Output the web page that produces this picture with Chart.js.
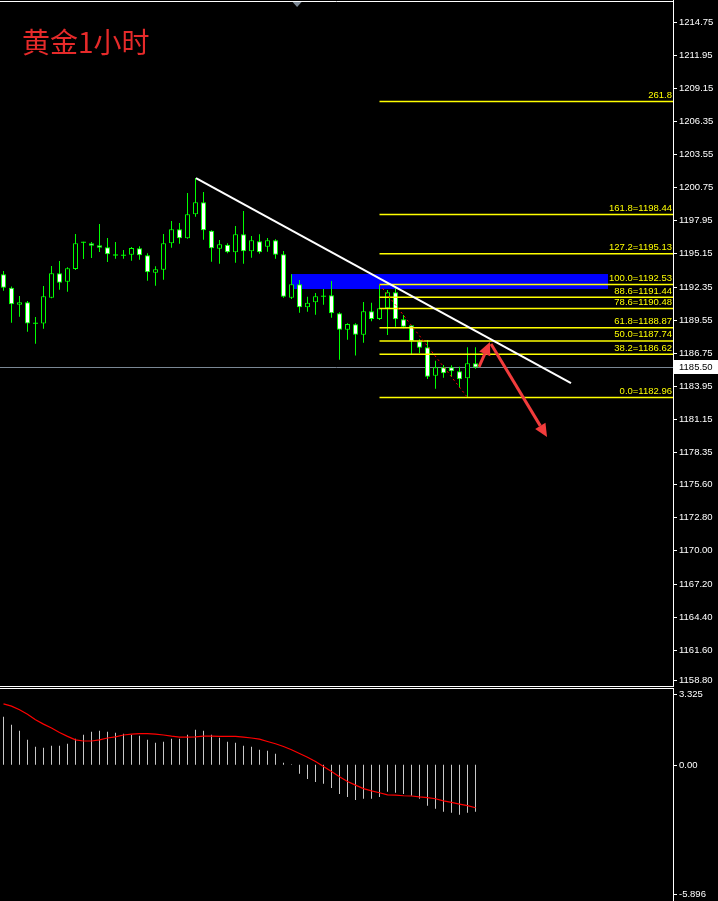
<!DOCTYPE html>
<html>
<head>
<meta charset="utf-8">
<title>黄金1小时</title>
<script src="https://cdn.jsdelivr.net/npm/chart.js@4.4.1/dist/chart.umd.min.js"></script>
<style>
  html, body { margin: 0; padding: 0; background: #000; }
  body { width: 718px; height: 901px; position: relative; overflow: hidden; }
  #priceBox { position: absolute; left: 0; top: 0; width: 718px; height: 687px; }
  #macdBox { position: absolute; left: 0; top: 688px; width: 718px; height: 213px; }
  #title { position: absolute; left: 22px; top: 27px; color: #e62a2a; font: 28px/28px "Noto Sans CJK SC", sans-serif; }
</style>
</head>
<body>
<div id="priceBox"><canvas id="priceChart" width="718" height="687"></canvas></div>
<div id="macdBox"><canvas id="macdChart" width="718" height="213"></canvas></div>
<div id="title">黄金1小时</div>
<script>
// gold H1 candles
const opens  = [1193.39, 1192.25, 1190.81, 1191.02, 1189.24, 1189.21, 1191.41, 1193.47, 1192.76, 1193.84,
                1196.10, 1196.01, 1195.84, 1195.67, 1194.96, 1195.00, 1195.05, 1195.59, 1195.00, 1193.52,
                1193.78, 1196.01, 1197.20, 1196.44, 1198.47, 1199.48, 1197.08, 1195.56, 1195.89, 1195.25,
                1196.77, 1195.34, 1196.18, 1195.72, 1196.27, 1195.08, 1191.41, 1192.54, 1190.59, 1191.02,
                1191.53, 1191.61, 1190.09, 1188.70, 1189.16, 1188.27, 1190.25, 1189.60, 1190.51, 1191.86,
                1189.58, 1189.07, 1187.71, 1187.20, 1184.80, 1185.51, 1185.51, 1185.17, 1184.58, 1185.85];
const highs  = [1193.67, 1192.35, 1191.55, 1191.13, 1189.77, 1192.40, 1194.09, 1194.51, 1193.98, 1196.80,
                1196.15, 1196.12, 1197.65, 1196.46, 1196.12, 1195.45, 1195.70, 1195.76, 1195.17, 1194.07,
                1196.80, 1197.90, 1197.73, 1200.27, 1201.54, 1200.36, 1197.12, 1196.29, 1196.01, 1197.48,
                1198.75, 1196.63, 1196.77, 1196.46, 1196.35, 1195.36, 1193.39, 1192.91, 1191.49, 1191.80,
                1192.14, 1192.82, 1190.17, 1189.24, 1189.24, 1191.04, 1190.98, 1192.53, 1192.06, 1192.20,
                1189.94, 1189.10, 1187.88, 1187.82, 1186.07, 1185.71, 1185.68, 1185.56, 1187.21, 1187.21];
const lows   = [1192.00, 1189.29, 1189.80, 1188.53, 1187.51, 1188.78, 1191.35, 1192.08, 1191.91, 1193.75,
                1194.68, 1194.77, 1195.28, 1194.43, 1194.71, 1194.71, 1194.54, 1194.62, 1192.85, 1192.42,
                1192.93, 1195.64, 1195.98, 1196.40, 1198.26, 1196.32, 1194.45, 1194.29, 1195.17, 1194.37,
                1194.29, 1194.79, 1195.13, 1195.30, 1194.71, 1191.41, 1191.30, 1190.14, 1190.22, 1189.97,
                1190.81, 1189.71, 1186.16, 1187.85, 1186.50, 1187.60, 1189.41, 1189.52, 1188.25, 1188.95,
                1188.82, 1186.55, 1186.70, 1184.52, 1183.70, 1184.63, 1184.72, 1183.79, 1182.96, 1185.39];
const closes = [1192.25, 1190.85, 1191.02, 1189.21, 1189.24, 1191.53, 1193.47, 1192.68, 1193.90, 1196.01,
                1196.10, 1195.81, 1195.64, 1195.08, 1195.08, 1195.00, 1195.61, 1195.00, 1193.56, 1193.81,
                1196.01, 1197.20, 1196.44, 1198.47, 1199.48, 1197.11, 1195.59, 1195.93, 1195.25, 1196.77,
                1195.34, 1196.27, 1195.25, 1196.27, 1195.05, 1191.49, 1192.54, 1190.59, 1190.98, 1191.53,
                1191.53, 1190.09, 1188.70, 1189.18, 1188.27, 1190.25, 1189.60, 1190.51, 1191.86, 1189.58,
                1188.95, 1187.71, 1187.17, 1184.72, 1185.51, 1185.01, 1185.17, 1184.50, 1185.85, 1185.50];

// MACD window: histogram (main) and red signal line
const macdHist = [2.08, 1.73, 1.47, 1.08, 0.78, 0.74, 0.82, 0.82, 0.91, 1.13,
                  1.30, 1.43, 1.47, 1.43, 1.39, 1.34, 1.30, 1.26, 1.08, 0.95,
                  1.00, 1.13, 1.13, 1.30, 1.52, 1.47, 1.30, 1.17, 1.00, 0.95,
                  0.82, 0.78, 0.65, 0.61, 0.48, 0.09, 0.02, -0.39, -0.61, -0.74,
                  -0.82, -1.00, -1.26, -1.39, -1.52, -1.47, -1.47, -1.39, -1.17, -1.21,
                  -1.26, -1.34, -1.47, -1.77, -1.90, -2.03, -2.08, -2.16, -2.08, -2.03];
const macdSignal = [2.64, 2.54, 2.38, 2.19, 1.95, 1.76, 1.59, 1.40, 1.23, 1.08,
                    1.03, 1.03, 1.08, 1.16, 1.21, 1.29, 1.33, 1.35, 1.35, 1.33,
                    1.29, 1.24, 1.20, 1.20, 1.21, 1.24, 1.24, 1.23, 1.23, 1.23,
                    1.20, 1.16, 1.11, 1.01, 0.91, 0.79, 0.65, 0.49, 0.33, 0.14,
                    -0.07, -0.29, -0.52, -0.72, -0.88, -1.03, -1.13, -1.21, -1.30, -1.31,
                    -1.34, -1.35, -1.39, -1.42, -1.47, -1.56, -1.63, -1.70, -1.77, -1.86];

// axis ticks
const priceTicks = [1214.75, 1211.95, 1209.15, 1206.35, 1203.55, 1200.75, 1197.95, 1195.15, 1192.35, 1189.55,
                    1186.75, 1183.95, 1181.15, 1178.35, 1175.60, 1172.80, 1170.00, 1167.20, 1164.40, 1161.60, 1158.80];
const macdTicks = [3.325, 0, -5.896];
const macdTickLabels = ['3.325', '0.00', '-5.896'];
const bid = 1185.50;

// drawn objects: fibo, trend line, zone, arrows  (x = bar index, y = price)
const fibLabels = ['0.0=1182.96', '38.2=1186.62', '50.0=1187.74', '61.8=1188.87', '78.6=1190.48',
                   '88.6=1191.44', '100.0=1192.53', '127.2=1195.13', '161.8=1198.44', '261.8'];
const fibPrices = [1182.96, 1186.62, 1187.74, 1188.87, 1190.48, 1191.44, 1192.53, 1195.13, 1198.44, 1208.01];
const fibStart = 47;
const fibDiag = [[47, 1192.53], [58, 1182.96]];
const trendLine = [[24.06, 1201.54], [70.94, 1184.18]];
const zoneBox = [35.94, 1193.41, 75.56, 1192.14];
const arrowUp = [[59.44, 1185.54], [60.81, 1187.66]];
const arrowDown = [[60.94, 1187.49], [67.94, 1179.61]];
const shiftMarker = 36.7;

const AXIS_W = 45;
const X_MIN = -0.4375, X_MAX = 83.6875;
const GREEN = '#00ff00';
const FONT = '9.5px "Liberation Sans", Arial, sans-serif';
const idx = opens.map((_, i) => i);

function drawArrow(ctx, x0, y0, x1, y1, head, half) {
  const a = Math.atan2(y1 - y0, x1 - x0);
  const bx = x1 - Math.cos(a) * head, by = y1 - Math.sin(a) * head;
  ctx.beginPath(); ctx.moveTo(x0, y0); ctx.lineTo(bx, by); ctx.stroke();
  ctx.beginPath();
  ctx.moveTo(x1, y1);
  ctx.lineTo(bx + Math.sin(a) * half, by - Math.cos(a) * half);
  ctx.lineTo(bx - Math.sin(a) * half, by + Math.cos(a) * half);
  ctx.closePath(); ctx.fill();
}

function drawAxisLabels(chart, values, texts) {
  const {ctx, chartArea: ca, scales: {y}} = chart;
  ctx.save();
  ctx.fillStyle = '#fff'; ctx.strokeStyle = '#fff'; ctx.lineWidth = 1;
  ctx.font = FONT; ctx.textAlign = 'left'; ctx.textBaseline = 'middle';
  values.forEach((v, i) => {
    let py = Math.round(y.getPixelForValue(v)) + 0.5;
    py = Math.min(Math.max(py, 6.5), chart.height - 6.5);
    ctx.beginPath(); ctx.moveTo(ca.right, py); ctx.lineTo(ca.right + 4, py); ctx.stroke();
    ctx.fillText(texts[i], ca.right + 6, py);
  });
  ctx.restore();
}

const priceObjects = {
  id: 'priceObjects',
  beforeDatasetsDraw(chart) {
    const {ctx, chartArea: ca, scales: {x, y}} = chart;
    ctx.save();
    ctx.fillStyle = '#0000ff';
    const zx0 = x.getPixelForValue(zoneBox[0]), zx1 = x.getPixelForValue(zoneBox[2]);
    const zy0 = y.getPixelForValue(zoneBox[1]), zy1 = y.getPixelForValue(zoneBox[3]);
    ctx.fillRect(zx0, zy0, zx1 - zx0, zy1 - zy0);
    const by = Math.round(y.getPixelForValue(bid)) + 0.5;
    ctx.strokeStyle = '#7a8794'; ctx.lineWidth = 1;
    ctx.beginPath(); ctx.moveTo(ca.left, by); ctx.lineTo(ca.right, by); ctx.stroke();
    ctx.restore();
  },
  afterDatasetsDraw(chart) {
    const {ctx, chartArea: ca, scales: {x, y}} = chart;
    ctx.save();
    ctx.beginPath(); ctx.rect(ca.left, ca.top, ca.width, ca.height); ctx.clip();
    // fibo levels
    const fx = x.getPixelForValue(fibStart);
    ctx.strokeStyle = '#ffff00'; ctx.fillStyle = '#ffff00'; ctx.lineWidth = 1.5;
    ctx.font = FONT; ctx.textAlign = 'right'; ctx.textBaseline = 'bottom';
    fibPrices.forEach((p, i) => {
      const py = y.getPixelForValue(p);
      ctx.beginPath(); ctx.moveTo(fx, py); ctx.lineTo(ca.right, py); ctx.stroke();
      ctx.fillText(fibLabels[i], ca.right - 1, py - 1.5);
    });
    // fibo diagonal
    ctx.strokeStyle = '#ff0000'; ctx.lineWidth = 1; ctx.setLineDash([2, 3]);
    ctx.beginPath();
    ctx.moveTo(x.getPixelForValue(fibDiag[0][0]), y.getPixelForValue(fibDiag[0][1]));
    ctx.lineTo(x.getPixelForValue(fibDiag[1][0]), y.getPixelForValue(fibDiag[1][1]));
    ctx.stroke();
    ctx.setLineDash([]);
    // trend line
    ctx.strokeStyle = '#ffffff'; ctx.lineWidth = 2;
    ctx.beginPath();
    ctx.moveTo(x.getPixelForValue(trendLine[0][0]), y.getPixelForValue(trendLine[0][1]));
    ctx.lineTo(x.getPixelForValue(trendLine[1][0]), y.getPixelForValue(trendLine[1][1]));
    ctx.stroke();
    // arrows
    ctx.strokeStyle = '#f23c3c'; ctx.fillStyle = '#f23c3c'; ctx.lineWidth = 3;
    [arrowUp, arrowDown].forEach(a => {
      drawArrow(ctx, x.getPixelForValue(a[0][0]), y.getPixelForValue(a[0][1]),
                x.getPixelForValue(a[1][0]), y.getPixelForValue(a[1][1]), 13, 6);
    });
    ctx.restore();
  },
  afterDraw(chart) {
    const {ctx, chartArea: ca, scales: {x, y}} = chart;
    drawAxisLabels(chart, priceTicks, priceTicks.map(v => v.toFixed(2)));
    ctx.save();
    // bid box
    const by = Math.round(y.getPixelForValue(bid));
    ctx.fillStyle = '#fff';
    ctx.fillRect(ca.right + 1, by - 7, chart.width - ca.right - 1, 14);
    ctx.fillStyle = '#000'; ctx.font = FONT; ctx.textBaseline = 'middle';
    ctx.fillText(bid.toFixed(2), ca.right + 6, by + 0.5);
    // window frame
    ctx.strokeStyle = '#fff'; ctx.lineWidth = 1;
    ctx.beginPath();
    ctx.moveTo(0, 1.5); ctx.lineTo(ca.right, 1.5);
    ctx.moveTo(0, ca.bottom - 0.5); ctx.lineTo(ca.right + 1, ca.bottom - 0.5);
    ctx.stroke();
    // chart shift marker
    const sx = x.getPixelForValue(shiftMarker);
    ctx.fillStyle = '#7b8794';
    ctx.beginPath(); ctx.moveTo(sx - 4.5, 2); ctx.lineTo(sx + 4.5, 2); ctx.lineTo(sx, 7); ctx.closePath(); ctx.fill();
    ctx.restore();
  }
};

const macdObjects = {
  id: 'macdObjects',
  afterDraw(chart) {
    const {ctx, chartArea: ca} = chart;
    drawAxisLabels(chart, macdTicks, macdTickLabels);
    ctx.save();
    ctx.strokeStyle = '#fff'; ctx.lineWidth = 1;
    ctx.beginPath(); ctx.moveTo(0, 0.5); ctx.lineTo(ca.right + 1, 0.5); ctx.stroke();
    ctx.restore();
  }
};

function yAxis(min, max) {
  return {
    position: 'right', min: min, max: max, bounds: 'data', beginAtZero: false,
    ticks: { display: false }, grid: { display: false, drawTicks: false },
    border: { display: true, color: '#fff', width: 1 },
    afterFit: s => { s.width = AXIS_W; }
  };
}
const xAxis = { type: 'linear', min: X_MIN, max: X_MAX, offset: false, display: false };
const baseOptions = {
  responsive: false, animation: false, maintainAspectRatio: false,
  layout: { padding: 0, autoPadding: false },
  plugins: { legend: { display: false }, tooltip: { enabled: false }, title: { display: false } }
};

new Chart(document.getElementById('priceChart'), {
  type: 'bar',
  data: {
    datasets: [
      {
        type: 'scatter', order: 0,
        data: idx.filter(i => opens[i] === closes[i]).map(i => ({x: i, y: opens[i]})),
        pointStyle: 'line', pointRadius: 2.5, borderColor: GREEN, borderWidth: 1
      },
      {
        order: 1, grouped: false, barThickness: 5, inflateAmount: 0,
        data: idx.map(i => ({x: i, y: [Math.min(opens[i], closes[i]), Math.max(opens[i], closes[i])]})),
        backgroundColor: idx.map(i => closes[i] < opens[i] ? '#ffffff' : '#000000'),
        borderColor: GREEN, borderWidth: 1, borderSkipped: false
      },
      {
        order: 2, grouped: false, barThickness: 1, inflateAmount: 0,
        data: idx.map(i => ({x: i, y: [lows[i], highs[i]]})),
        backgroundColor: GREEN
      }
    ]
  },
  options: Object.assign({}, baseOptions, {
    scales: { x: xAxis, y: yAxis(1158.44, 1216.613) }
  }),
  plugins: [priceObjects]
});

new Chart(document.getElementById('macdChart'), {
  type: 'bar',
  data: {
    datasets: [
      {
        type: 'line', order: 0,
        data: macdSignal.map((v, i) => ({x: i, y: v})),
        borderColor: '#ff0000', borderWidth: 1.2, pointRadius: 0, tension: 0
      },
      {
        order: 1, grouped: false, barThickness: 1, inflateAmount: 0,
        data: macdHist.map((v, i) => ({x: i, y: v})),
        backgroundColor: '#c8c8c8'
      }
    ]
  },
  options: Object.assign({}, baseOptions, {
    scales: { x: xAxis, y: yAxis(-5.896, 3.325) }
  }),
  plugins: [macdObjects]
});
</script>
</body>
</html>
